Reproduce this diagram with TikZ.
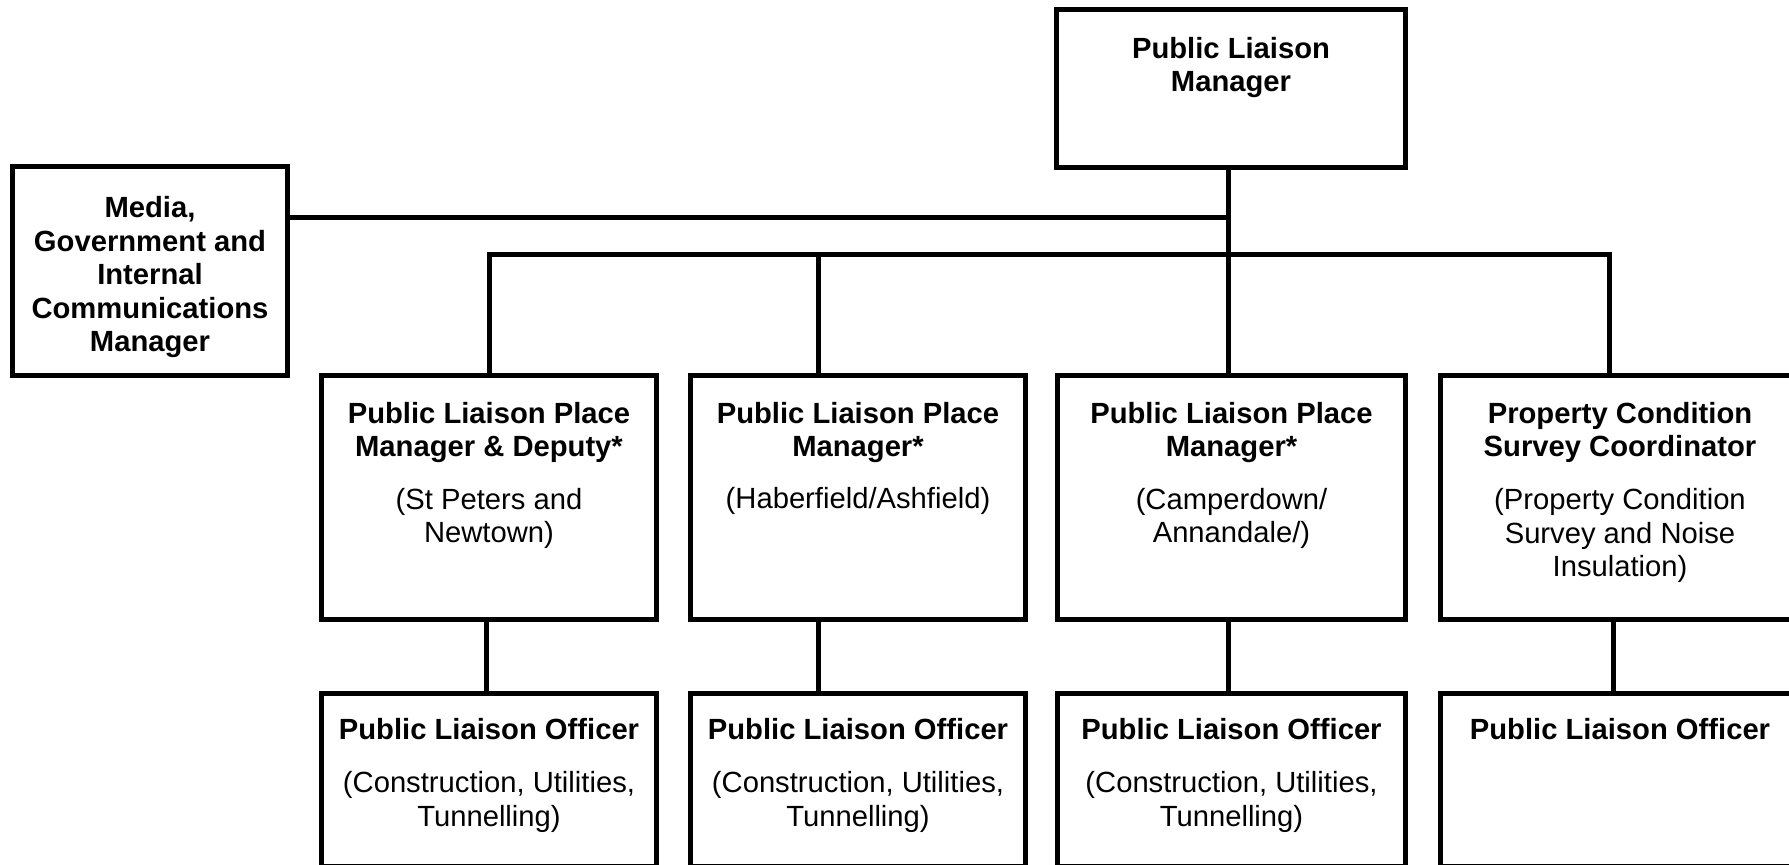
\documentclass[tikz,border=0pt]{standalone}
\usepackage{fontspec}
\setmainfont{Liberation Sans}
\begin{document}
\begin{tikzpicture}[x=0.5pt,y=-0.5pt,
  orgbox/.style={draw=black, line width=2.5pt, rectangle, inner sep=0pt, fill=none},
  conn/.style={draw=black, line width=2.5pt},
  ttl/.style={font=\fontsize{14.6pt}{16.8pt}\selectfont\bfseries, align=center, anchor=base, inner sep=0pt},
  sub/.style={font=\fontsize{14.6pt}{16.8pt}\selectfont, align=center, anchor=base, inner sep=0pt}]
\useasboundingbox (0,0) rectangle (1789,865);
\fill[white] (0,0) rectangle (1789,865);
\clip (0,0) rectangle (1789,865);

% boxes
\node[orgbox, minimum width=137.5pt, minimum height=104.5pt] (media) at (150,271) {};
\node[orgbox, minimum width=174.5pt, minimum height=79pt] (plm) at (1231,88.5) {};
\node[orgbox, minimum width=167.5pt, minimum height=122pt] (pm1) at (489,497.5) {};
\node[orgbox, minimum width=167.5pt, minimum height=122pt] (pm2) at (858,497.5) {};
\node[orgbox, minimum width=174pt, minimum height=122pt] (pm3) at (1231.5,497.5) {};
\node[orgbox, minimum width=178.5pt, minimum height=122pt] (pm4) at (1619,497.5) {};
\node[orgbox, minimum width=167.5pt, minimum height=86.5pt] (of1) at (489,780) {};
\node[orgbox, minimum width=167.5pt, minimum height=86.5pt] (of2) at (858,780) {};
\node[orgbox, minimum width=174pt, minimum height=86.5pt] (of3) at (1231.5,780) {};
\node[orgbox, minimum width=178.5pt, minimum height=86.5pt] (of4) at (1619,780) {};

% connectors
\coordinate (mj) at (1228,218);
\coordinate (b2) at (818,255);
\coordinate (b4) at (1609,255);
\draw[conn] ([xshift=-1.5pt]plm.south) -- ([xshift=-1.5pt]plm.south |- pm3.north);
\draw[conn] (media.east |- mj) -- (mj);
\draw[conn] (pm1.north) |- (b4) -- (b4 |- pm4.north);
\draw[conn] (b2) -- (b2 |- pm2.north);
\draw[conn] ([xshift=-1.5pt]pm1.south) -- ([xshift=-1.5pt]of1.north);
\draw[conn] (b2 |- pm2.south) -- (b2 |- of2.north);
\draw[conn] (mj |- pm3.south) -- (mj |- of3.north);
\draw[conn] ([xshift=2pt]b4 |- pm4.south) -- ([xshift=2pt]b4 |- of4.north);

% texts (anchor=base sits on the last line's baseline)
\node[ttl] (tmedia) at (150,352) {Media,\\Government and\\Internal\\Communications\\Manager};
\node[ttl] (tplm) at (1231,92) {Public Liaison\\Manager};
\node[ttl] (tpm1) at (489,457) {Public Liaison Place\\Manager \& Deputy*};
\node[sub] (spm1) at (489,543) {(St Peters and\\Newtown)};
\node[ttl] (tpm2) at (858,457) {Public Liaison Place\\Manager*};
\node[sub] (spm2) at (858,509) {(Haberfield/Ashfield)};
\node[ttl] (tpm3) at (1231.5,457) {Public Liaison Place\\Manager*};
\node[sub] (spm3) at (1231.5,543) {(Camperdown/\\Annandale/)};
\node[ttl] (tpm4) at (1620,457) {Property Condition\\Survey Coordinator};
\node[sub] (spm4) at (1620,577) {(Property Condition\\Survey and Noise\\Insulation)};
\node[ttl] (tof1) at (489,740) {Public Liaison Officer};
\node[sub] (sof1) at (489,826) {(Construction, Utilities,\\Tunnelling)};
\node[ttl] (tof2) at (858,740) {Public Liaison Officer};
\node[sub] (sof2) at (858,826) {(Construction, Utilities,\\Tunnelling)};
\node[ttl] (tof3) at (1231.5,740) {Public Liaison Officer};
\node[sub] (sof3) at (1231.5,826) {(Construction, Utilities,\\Tunnelling)};
\node[ttl] (tof4) at (1620,740) {Public Liaison Officer};
\end{tikzpicture}
\end{document}
